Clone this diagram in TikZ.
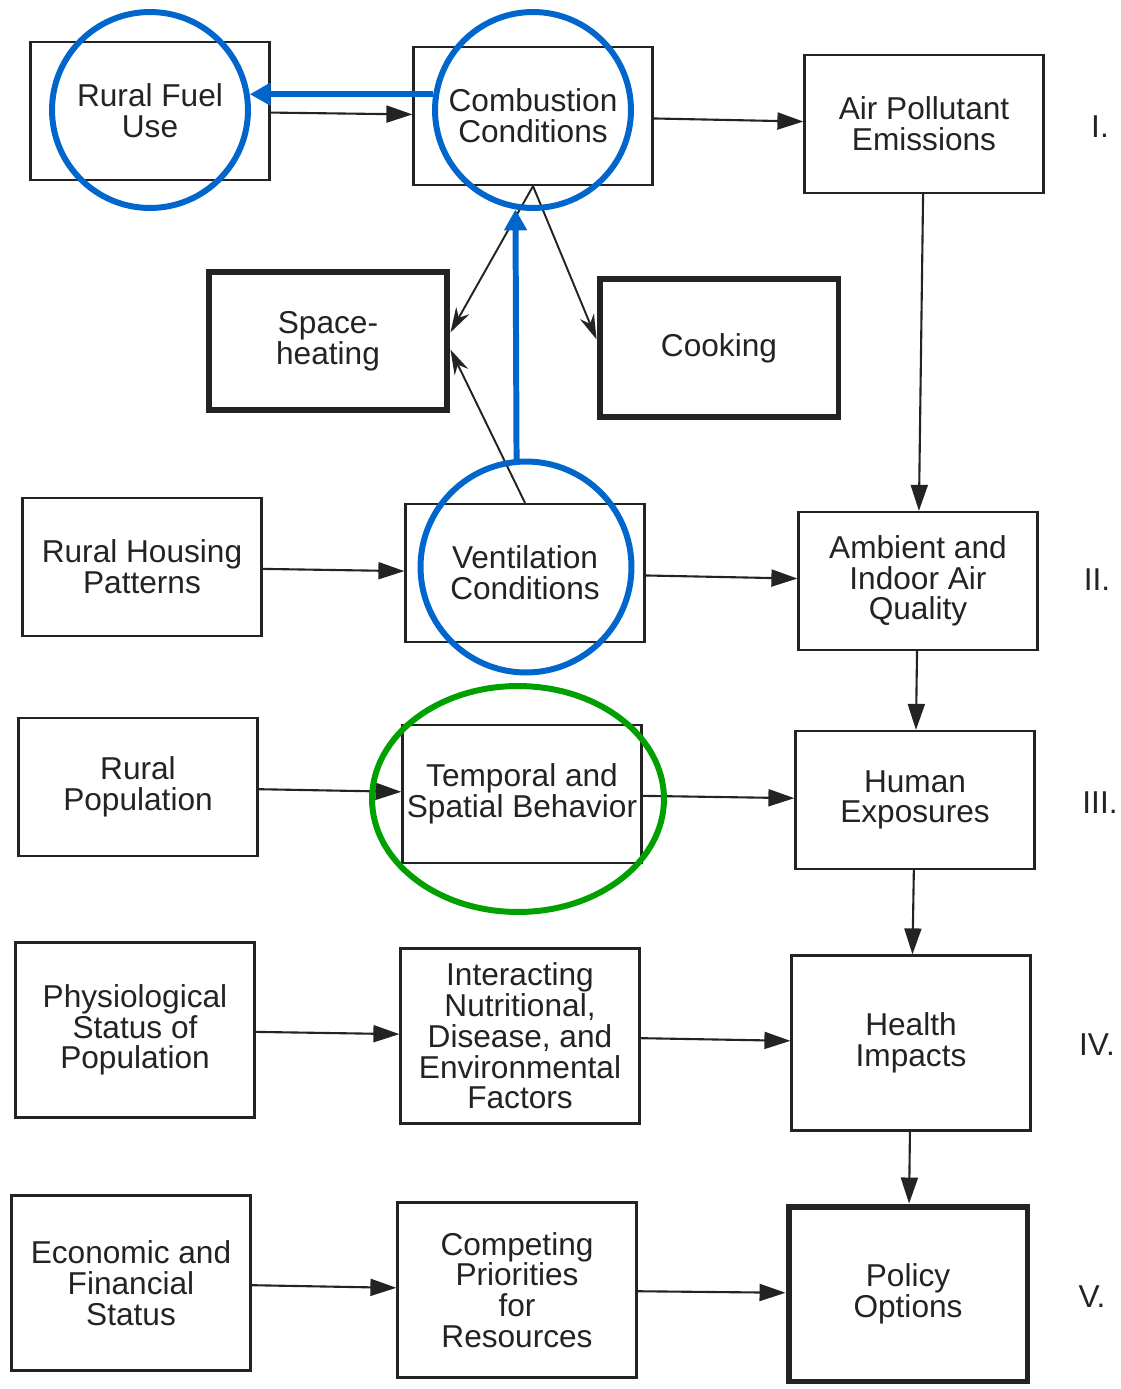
\documentclass[tikz,border=0pt]{standalone}
\usepackage{fontspec}
\setmainfont{Liberation Sans}
\usetikzlibrary{arrows.meta,shapes.geometric}
\definecolor{markblue}{RGB}{0,102,204}
\definecolor{markgreen}{RGB}{0,160,0}
\definecolor{ink}{RGB}{35,35,35}

\begin{document}
\begin{tikzpicture}[x=0.02cm, y=-0.02cm,
    font=\fontsize{18}{17.5}\selectfont, text=ink,
    box/.style={draw=ink, line width=1.3pt, align=center, inner sep=0pt,
                minimum width=4.78cm, minimum height=2.76cm},
    tallbox/.style={box, minimum height=3.5cm},
    heavy/.style={line width=3.4pt},
    arr/.style={draw=ink, line width=1.2pt, -{Triangle[length=0.52cm,width=0.34cm]}},
    slim/.style={draw=ink, line width=1.1pt, -{Stealth[length=0.5cm,width=0.3cm]}},
    ring/.style={draw=markblue, line width=3.4pt, circle, inner sep=0pt},
    bluearr/.style={draw=markblue, line width=3.4pt, -{Triangle[length=0.42cm,width=0.44cm]}},
    level/.style={inner sep=0pt}]
            \useasboundingbox (0,0) rectangle (1121,1389);

            \node[box]          (fuel)    at ( 150,  111) {Rural Fuel\\Use};
            \node[box]          (comb)    at ( 533,  116) {Combustion\\Conditions};
            \node[box]          (emis)    at ( 924,  124) {Air Pollutant\\Emissions};
            \node[box, heavy]   (heat)    at ( 328,  341) {Space-\\heating};
            \node[box, heavy]   (cook)    at ( 719,  348) {Cooking};
            \node[box]          (house)   at ( 142,  567) {Rural Housing\\Patterns};
            \node[box]          (vent)    at ( 525,  573) {Ventilation\\Conditions};
            \node[box]          (air)     at ( 918,  581) {Ambient and\\Indoor Air\\Quality};
            \node[box]          (pop)     at ( 138,  787) {Rural\\Population};
            \node[box]          (behav)   at ( 522,  794) {Temporal and\\Spatial Behavior};
            \node[box]          (expo)    at ( 915,  800) {Human\\Exposures};
            \node[tallbox]      (physio)  at ( 135, 1030) {Physiological\\Status of\\Population};
            \node[tallbox]      (factors) at ( 520, 1036) {Interacting\\Nutritional,\\Disease, and\\Environmental\\Factors};
            \node[tallbox]      (health)  at ( 911, 1043) {Health\\Impacts};
            \node[tallbox]      (econ)    at ( 131, 1283) {Economic and\\Financial\\Status};
            \node[tallbox]      (prior)   at ( 517, 1290) {Competing\\Priorities\\for\\Resources};
            \node[tallbox,heavy](policy)  at ( 908, 1294) {Policy\\Options};

            \node[level] (l1) at (1100,  127) {I.};
            \node[level] (l2) at (1097,  580) {II.};
            \node[level] (l3) at (1100,  803) {III.};
            \node[level] (l4) at (1097, 1045) {IV.};
            \node[level] (l5) at (1092, 1297) {V.};

            \draw[arr]  (fuel)    -- (comb);
            \draw[arr]  (comb)    -- (emis);
            \draw[slim] (comb.south) -- (heat.4);
            \draw[slim] (comb.south) -- (cook.176);
            \draw[slim] (vent.north) -- (heat.-4);
            \draw[arr]  (emis)    -- (air);
            \draw[arr]  (house)   -- (vent);
            \draw[arr]  (vent)    -- (air);
            \draw[arr]  (air)     -- (expo);
            \draw[arr]  (pop)     -- (behav);
            \draw[arr]  (behav)   -- (expo);
            \draw[arr]  (expo)    -- (health);
            \draw[arr]  (physio)  -- (factors);
            \draw[arr]  (factors) -- (health);
            \draw[arr]  (health)  -- (policy);
            \draw[arr]  (econ)    -- (prior);
            \draw[arr]  (prior)   -- (policy);

            \node[ring, minimum size=3.92cm] (ring1) at (150, 110) {};
            \node[ring, minimum size=3.92cm] (ring2) at (533, 110) {};
            \node[ring, minimum size=4.22cm] (ring3) at (526, 567) {};
            \node[draw=markgreen, line width=3.4pt, ellipse, inner sep=0pt,
                  minimum width=5.84cm, minimum height=4.52cm] (ring4) at (518, 799) {};

            \draw[bluearr] (ring2.171) -- (ring1.9);
            \draw[bluearr] (ring3.95)  -- (ring2.260);
          \end{tikzpicture}
\end{document}
